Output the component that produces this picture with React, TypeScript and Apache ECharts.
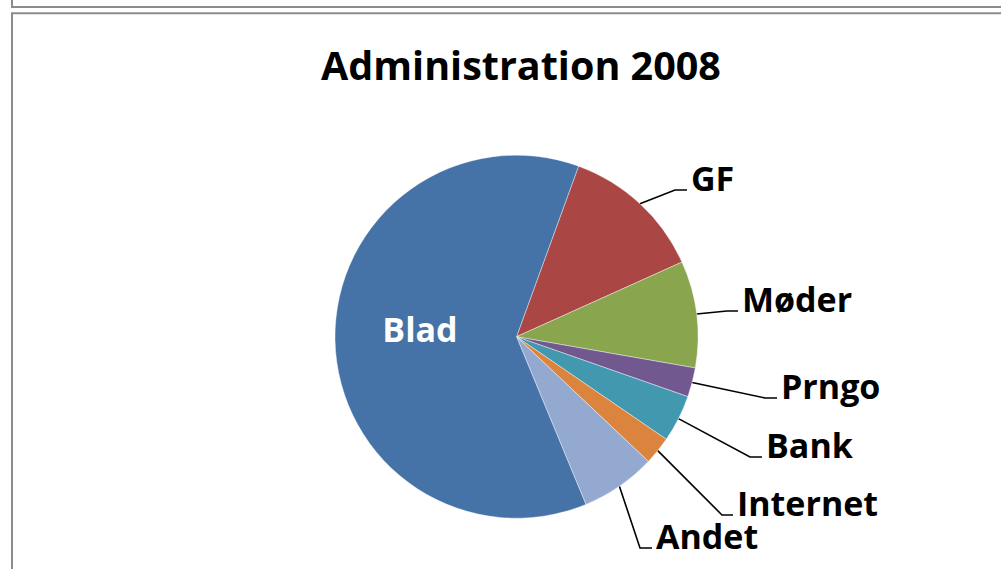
import React, { useEffect, useRef } from "react";
import * as echarts from "echarts";

const TITLE = "Administration 2008";
const categories = ["GF", "Møder", "Prngo", "Bank", "Internet", "Andet", "Blad"];
const shares = [12.7, 9.5, 2.6, 4.2, 2.5, 6.7, 61.8];
const sliceColors = ["#AA4643", "#89A54E", "#71588F", "#4198AF", "#DB843D", "#93A9CF", "#4572A7"];

// label placement (layout only): elbow point of leader line and end x of horizontal part
const guideElbows: Record<string, number[]> = {
  GF: [675, 190, 687],
  "Møder": [727, 311, 738],
  Prngo: [765, 398, 777],
  Bank: [750, 457, 762],
  Internet: [722, 515, 733],
  Andet: [640, 548, 652],
};
const insideLabelPos: Record<string, number[]> = { Blad: [420, 329] };

const FONT = "'Open Sans'";
const LABEL_SIZE = 34;

export default function App() {
  const ref = useRef<HTMLDivElement>(null);
  useEffect(() => {
    document.body.style.margin = "0";
    const chart = echarts.init(ref.current!, null, { renderer: "svg" });
    const data = categories.map((name, i) => {
      const inside = !!insideLabelPos[name];
      return {
        name,
        value: shares[i],
        itemStyle: { color: sliceColors[i] },
        label: inside
          ? { position: "inside", color: "#fff" }
          : { position: "outside", color: "#000" },
        labelLine: { show: !inside },
      };
    });
    chart.setOption({
      animation: false,
      backgroundColor: "#fff",
      title: {
        text: TITLE,
        left: 516,
        top: 40,
        textAlign: "center",
        textStyle: { fontFamily: FONT, fontWeight: "bold", fontSize: 39.5, color: "#000" },
      },
      graphic: [
        {
          type: "rect",
          shape: { x: 12, y: -20, width: 1020, height: 27 },
          style: { fill: "none", stroke: "#8c8c8c", lineWidth: 2 },
          silent: true,
        },
        {
          type: "rect",
          shape: { x: 12, y: 13.3, width: 1020, height: 600 },
          style: { fill: "none", stroke: "#8c8c8c", lineWidth: 2 },
          silent: true,
        },
      ],
      series: [
        {
          type: "pie",
          center: [516.5, 336.7],
          radius: 181.5,
          startAngle: 70,
          clockwise: true,
          avoidLabelOverlap: false,
          itemStyle: { borderColor: "#fff", borderWidth: 0.4 },
          label: {
            show: true,
            formatter: "{b}",
            fontFamily: FONT,
            fontWeight: "bold",
            fontSize: LABEL_SIZE,
          },
          labelLine: {
            show: true,
            length: 20,
            length2: 10,
            lineStyle: { color: "#000", width: 1.6 },
          },
          labelLayout: (p: any) => {
            const name = categories[p.dataIndex];
            if (insideLabelPos[name]) {
              const [x, y] = insideLabelPos[name];
              return { x, y, align: "center", verticalAlign: "middle" };
            }
            const g = guideElbows[name];
            if (!g) return {};
            const start = p.labelLinePoints ? p.labelLinePoints[0] : [g[0], g[1]];
            return {
              x: g[2] + 4,
              y: g[1] - 12,
              align: "left",
              verticalAlign: "middle",
              labelLinePoints: [start, [g[0], g[1]], [g[2], g[1]]],
            };
          },
          data,
        },
      ],
    });
    return () => chart.dispose();
  }, []);
  return (
    <div
      ref={ref}
      style={{ position: "absolute", left: 0, top: 0, width: 1001, height: 569 }}
    />
  );
}
